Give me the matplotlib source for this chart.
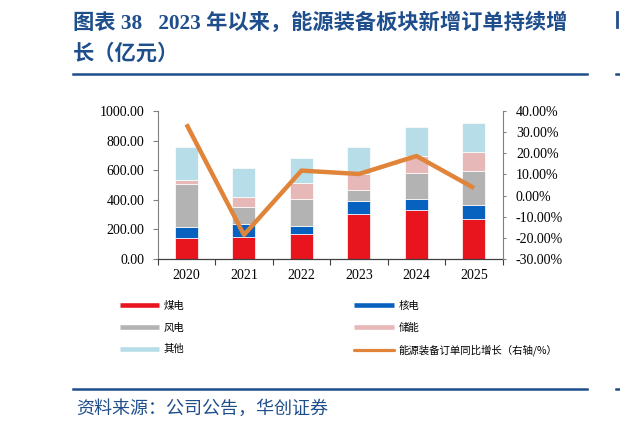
import numpy as np
import matplotlib
matplotlib.use('Agg')
import matplotlib.pyplot as plt
from matplotlib.lines import Line2D

plt.rcParams['font.family'] = ['Liberation Serif', 'Noto Sans CJK SC', 'DejaVu Sans']

# --- Datos ---
anios = ['2020', '2021', '2022', '2023', '2024', '2025']
meidian = [140, 149, 167, 306, 329, 270]     # 煤电
hedian = [74, 85, 58, 88, 79, 97]            # 核电
fengdian = [291, 120, 178, 70, 171, 230]     # 风电
chuneng = [29, 67, 108, 108, 119, 128]       # 储能
qita = [223, 192, 174, 183, 194, 196]        # 其他
crecimiento = [33.7, -18.6, 11.8, 10.2, 18.7, 3.6]  # 同比增长 (%)

series = [
    ('煤电', meidian, '#E8141E'),
    ('核电', hedian, '#0761BE'),
    ('风电', fengdian, '#B3B3B3'),
    ('储能', chuneng, '#E6B8B7'),
    ('其他', qita, '#B7DDE8'),
]
nombre_linea = '能源装备订单同比增长（右轴/%）'
color_linea = '#E0843A'
azul_titulo = '#1F4E8C'

fig = plt.figure(figsize=(6.2, 4.3), dpi=100)
ax = fig.add_axes([0.2544, 0.3977, 0.5564, 0.3442])

x = np.arange(len(anios))
base = np.zeros(len(anios))
for nombre, vals, col in series:
    ax.bar(x, vals, width=0.4, bottom=base, color=col, edgecolor='white',
           linewidth=0.5, zorder=2)
    base = base + np.array(vals)

ax.set_xlim(-0.5, len(anios) - 0.5)
ax.set_ylim(0, 1000)
ax.set_yticks(np.arange(0, 1001, 200))
ax.set_yticklabels([f'{v:.2f}' for v in np.arange(0, 1001, 200)])
ax.set_xticks(x)
ax.set_xticklabels(anios)
ax.set_xticks(np.arange(-0.5, len(anios), 1), minor=True)
ax.tick_params(axis='x', which='major', length=0, pad=7, labelsize=10)
ax.tick_params(axis='x', which='minor', length=4, color='#404040', width=0.8)
ax.tick_params(axis='y', length=3.6, pad=6, labelsize=10, color='#808080')

ax.spines['top'].set_visible(False)
ax.spines['right'].set_visible(False)
ax.spines['left'].set_color('#808080')
ax.spines['bottom'].set_color('#404040')
ax.spines['bottom'].set_linewidth(0.9)

ax2 = ax.twinx()
ax2.plot(x, crecimiento, color=color_linea, linewidth=3.2, zorder=3,
         solid_capstyle='butt')
ax2.set_ylim(-30, 40)
ax2.set_yticks(np.arange(-30, 41, 10))
ax2.set_yticklabels([f'{v:.2f}%' for v in np.arange(-30, 41, 10)])
ax2.tick_params(axis='y', length=2.5, pad=7, labelsize=10, color='#808080')
for s in ['top', 'left', 'bottom']:
    ax2.spines[s].set_visible(False)
ax2.spines['right'].set_color('#808080')

# Leyenda (columna por columna)
h = {}
for nombre, vals, col in series:
    h[nombre] = Line2D([], [], color=col, linewidth=3.3, solid_capstyle='butt')
h[nombre_linea] = Line2D([], [], color=color_linea, linewidth=2.3,
                         solid_capstyle='round')
orden = ['煤电', '风电', '其他', '核电', '储能', nombre_linea]
fig.legend([h[k] for k in orden], orden, loc='upper left',
           bbox_to_anchor=(0.193, 0.300), ncol=2, frameon=False,
           prop={'family': ['Noto Sans CJK SC', 'DejaVu Sans'], 'size': 7.5},
           handlelength=3.75, handletextpad=0.5, columnspacing=16.3,
           labelspacing=1.1, borderaxespad=0, borderpad=0)

# Título
fig.text(0.118, 1 - 23 / 430, '图表 38   2023 年以来，能源装备板块新增订单持续增',
         color=azul_titulo, fontsize=15.3, fontweight='bold', va='center', ha='left')
fig.text(0.118, 1 - 54 / 430, '长（亿元）', color=azul_titulo, fontsize=15.3,
         fontweight='bold', va='center', ha='left')
fig.add_artist(Line2D([73 / 620, 587 / 620], [1 - 74 / 430] * 2,
                      color=azul_titulo, linewidth=1.8))
fig.add_artist(Line2D([616 / 620, 1.0], [1 - 74 / 430] * 2,
                      color=azul_titulo, linewidth=1.8))
fig.add_artist(Line2D([617 / 620] * 2, [1 - 12 / 430, 1 - 27 / 430],
                      color=azul_titulo, linewidth=2.0))

# Fuente
fig.add_artist(Line2D([73 / 620, 587 / 620], [1 - 388.5 / 430] * 2,
                      color=azul_titulo, linewidth=1.8))
fig.add_artist(Line2D([616 / 620, 1.0], [1 - 388.5 / 430] * 2,
                      color=azul_titulo, linewidth=1.8))
fig.text(76 / 620, 1 - 409 / 430, '资料来源：公司公告，华创证券', color=azul_titulo,
         fontsize=13, style='italic', va='center', ha='left',
         family=['Noto Sans CJK SC', 'DejaVu Sans'])

fig.savefig('out.png', dpi=100)
